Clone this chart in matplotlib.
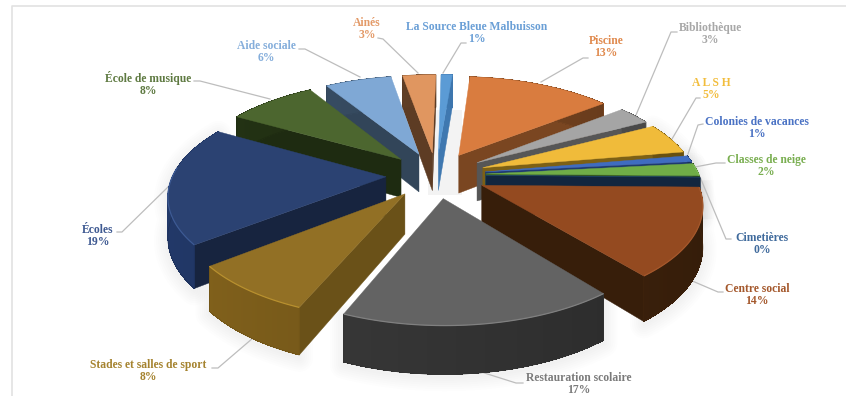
import numpy as np
from matplotlib import pyplot as plt
from matplotlib.colors import to_rgb
from matplotlib.patches import Polygon

noms = ['La Source Bleue Malbuisson', 'Piscine', 'Bibliothèque', 'A L S H',
        'Colonies de vacances', 'Classes de neige', 'Cimetières', 'Centre social',
        'Restauration scolaire', 'Stades et salles de sport', 'Écoles',
        'École de musique', 'Aide sociale', 'Ainés']
pourcents = [1, 13, 3, 5, 1, 2, 0, 14, 17, 8, 19, 8, 6, 3]

coul_dessus = ['#5b9bd5', '#d97c3f', '#a5a5a5', '#f0bb3a', '#3f6cc0', '#70ad47', '#255e91',
               '#944a20', '#636363', '#927025', '#2b4272', '#4c662f', '#7fa8d5', '#e09660']
coul_cote = ['#3f78b0', '#7a4621', '#565656', '#7d6015', '#1f3a70', '#35561f', '#12263f',
             '#371e0a', '#2a2a2a', '#6a5118', '#17243f', '#1e2b11', '#324559', '#5d3c24']
coul_mur = ['#3f78b0', '#7a4621', '#565656', '#7d6015', '#1f3a70', '#35561f', '#12263f',
            '#40230c', '#333333', '#705418', '#1d3059', '#1e2b11', '#324559', '#5d3c24']
coul_bord = ['#7ab0e0', '#e08a50', '#b5b5b5', '#f5c850', '#5080d0', '#80bd57', '#255e91',
             '#a5582c', '#808080', '#b8902f', '#3d5a94', '#5c7a3a', '#90b8e0', '#eaa070']
coul_texte = ['#6a9fd6', '#e08a4e', '#a8a8a8', '#f2bd3c', '#4a72c4', '#79ae50', '#3f6a9c',
              '#a4582c', '#7a7a7a', '#a5832f', '#3f5a92', '#5f7a42', '#85aedb', '#e39a68']

# centre de chaque etiquette et ligne de rappel
pos_texte = [(477, 33), (606, 47), (710, 34), (711, 89), (757, 128), (766, 166), (762, 244),
             (757, 295), (579, 384), (148, 371), (98, 236), (148, 84), (266, 52), (367, 29)]
rappels = [[(466, 43), (461, 43), (443, 73)], [(588, 58), (583, 58), (541, 82)],
           [(677, 32), (671, 32), (636, 115)], [(700, 98), (696, 98), (672, 139)],
           [(703, 124), (698, 125), (688, 154)], [(725, 163), (716, 163), (695, 167)],
           [(731, 239), (726, 239), (700, 177)], [(723, 292), (718, 292), (690, 280)],
           [(523, 383), (516, 383), (478, 371)], [(212, 368), (218, 368), (253, 338)],
           [(117, 232), (122, 232), (168, 187)], [(194, 81), (200, 81), (270, 99)],
           [(299, 49), (305, 49), (360, 77)], [(378, 38), (383, 39), (418, 73)]]

# parametres de la projection en perspective
CX, CY = 436, 175
A0, B0 = 213, 97.6
K = 0.163
ECLATE = 0.235
EPAISSEUR = 39
ROTATION = np.radians(1.0)


def projeter(x, y, bas=False):
    w = 1 + K * y
    X = CX + A0 * x / w
    Y = CY - B0 * y / w
    if bas:
        Y = Y + EPAISSEUR / w
    return np.column_stack([X, Y])


def nuance(couleur, f):
    return tuple(min(1, c * f) for c in to_rgb(couleur))


fig = plt.figure(figsize=(8.46, 3.96), dpi=100)
ax = fig.add_axes([0, 0, 1, 1])
ax.set_xlim(0, 846)
ax.set_ylim(396, 0)
ax.axis('off')

# cadre
ax.plot([12, 12, 846], [396, 6, 6], color='#e2e2e2', lw=1.2)
ax.fill_between([428, 462], 110, 195, color='#f3f3f3', lw=0, zorder=0)

fractions = np.array(pourcents) / sum(pourcents)
bornes = np.concatenate([[0], np.cumsum(fractions)]) * 2 * np.pi + ROTATION

parts = []
for i in range(len(pourcents)):
    t1, t2 = bornes[i], bornes[i + 1]
    m = (t1 + t2) / 2
    ex, ey = ECLATE * np.sin(m), ECLATE * np.cos(m)
    t = np.linspace(t1, t2, 60)
    parts.append({'i': i, 't1': t1, 't2': t2, 't': t, 'ex': ex, 'ey': ey,
                  'rx': np.sin(t) + ex, 'ry': np.cos(t) + ey})

# les parts du fond d'abord
parts = sorted(parts, key=lambda p: -p['ey'])

# ombre douce sous les parts
for p in parts:
    if p['ey'] > 0.1:
        continue
    mur = np.vstack([projeter(p['rx'], p['ry']), projeter(p['rx'], p['ry'], True)[::-1]])
    for lw in range(2, 22, 3):
        ax.add_patch(Polygon(mur + [0, 3], closed=True, fill=False, edgecolor='#000000',
                             lw=lw, alpha=0.009, joinstyle='round', zorder=1))

z = 2
for p in parts:
    i = p['i']
    ex, ey = p['ex'], p['ey']

    # faces radiales visibles
    if np.sin(p['t1']) < 0:
        xs = np.array([ex, p['rx'][0]])
        ys = np.array([ey, p['ry'][0]])
        q = np.vstack([projeter(xs, ys), projeter(xs, ys, True)[::-1]])
        ax.add_patch(Polygon(q, closed=True, fc=coul_cote[i], ec=coul_cote[i], lw=0.3, zorder=z))
    if np.sin(p['t2']) > 0 or pourcents[i] == 0:
        xs = np.array([ex, p['rx'][-1]])
        ys = np.array([ey, p['ry'][-1]])
        q = np.vstack([projeter(xs, ys), projeter(xs, ys, True)[::-1]])
        ax.add_patch(Polygon(q, closed=True, fc=coul_cote[i], ec=coul_cote[i], lw=0.3, zorder=z))

    # mur exterieur, plus clair vers la gauche ; les bandes se recouvrent pour eviter les raies
    haut = projeter(p['rx'], p['ry'])
    bas = projeter(p['rx'], p['ry'], True)
    for j in range(len(p['t']) - 1):
        f = 1 - 0.18 * np.sin(p['t'][j])
        q = np.vstack([haut[j:j + 3], bas[j:j + 3][::-1]])
        c = nuance(coul_mur[i], f)
        ax.add_patch(Polygon(q, closed=True, fc=c, ec='none', zorder=z, antialiased=False))
    contour = np.vstack([haut, bas[::-1]])
    ax.add_patch(Polygon(contour, closed=True, fill=False, ec=coul_mur[i], lw=0.5, zorder=z))

    # dessus
    dessus = np.vstack([projeter(np.array([ex]), np.array([ey])), haut])
    ax.add_patch(Polygon(dessus, closed=True, fc=coul_dessus[i], ec=coul_dessus[i], lw=0.3, zorder=z))

    # liseré clair sur le bord avant
    avant = np.cos(p['t']) < 0.1
    if avant.any():
        ax.plot(haut[avant, 0], haut[avant, 1], color=coul_bord[i], lw=0.9, zorder=z,
                solid_capstyle='butt')
    z += 1

for i in range(len(noms)):
    pts = np.array(rappels[i])
    ax.plot(pts[:, 0], pts[:, 1], color='#bdbdbd', lw=0.9, zorder=1.5)
    ax.text(pos_texte[i][0], pos_texte[i][1], f'{noms[i]}\n{pourcents[i]}%', color=coul_texte[i],
            family='Liberation Serif', weight='bold', fontsize=8.4, ha='center', va='center',
            linespacing=1.05, zorder=50)

fig.savefig('out.png', dpi=100)
